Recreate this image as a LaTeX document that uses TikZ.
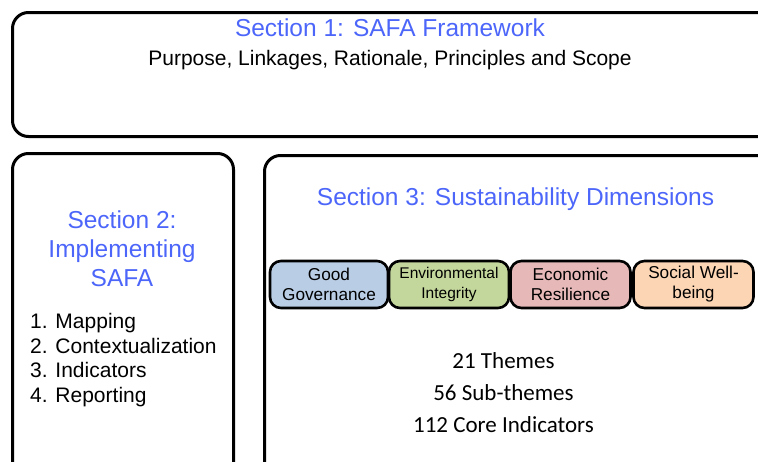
\documentclass[tikz,border=0pt]{standalone}
\usepackage{fontspec}
\setmainfont{Liberation Sans}
\newfontfamily\calibri{Carlito}
\usetikzlibrary{positioning}
\definecolor{secblue}{RGB}{77,102,250}
\definecolor{govblue}{RGB}{185,205,229}
\definecolor{envgreen}{RGB}{195,214,155}
\definecolor{ecored}{RGB}{230,185,184}
\definecolor{socorange}{RGB}{252,213,181}
\tikzset{
  secbox/.style={draw, line width=3pt, rounded corners=16pt, anchor=north west, inner sep=0pt},
  sectitle/.style={text=secblue, font=\fontsize{24.5}{29}\selectfont, align=center},
  dimbox/.style={draw, line width=2.6pt, rounded corners=11pt, minimum height=47pt, inner sep=0pt, align=center, font=\fontsize{17.2}{20}\selectfont}
}
\begin{document}
\begin{tikzpicture}[x=1pt, y=-1pt]
\useasboundingbox (0,0) rectangle (758,461);
\fill[white] (0,0) rectangle (758,461);

% the three sections
\node[secbox, minimum width=762pt, minimum height=124pt] (sec1) at (11,11) {};
\node[secbox, minimum width=221pt, minimum height=330pt] (sec2) at (11,152) {};
\node[secbox, minimum width=510pt, minimum height=330pt] (sec3) at (263,154) {};

\node[sectitle] (t1) at (390,28) {Section 1: SAFA Framework};
\node[font=\fontsize{21}{25}\selectfont] (s1) at (390,60) {Purpose, Linkages, Rationale, Principles and Scope};

\node[sectitle] (t2) at (122,249) {Section 2:\\Implementing\\SAFA};
\node[anchor=west, align=left, inner sep=0pt, font=\fontsize{21}{24.7}\selectfont] (steps) at (30,360)
  {1. Mapping\\2. Contextualization\\3. Indicators\\4. Reporting};

\node[sectitle] (t3) at (515.5,199) {Section 3: Sustainability Dimensions};

% dimensions
\node[dimbox, fill=govblue, minimum width=118pt] (gov) at (329,284.5) {Good\\Governance};
\node[dimbox, fill=envgreen, minimum width=120pt, font=\fontsize{15.5}{20}\selectfont] (env) at (449,284.5) {Environmental\\Integrity};
\node[dimbox, fill=ecored, minimum width=120pt] (eco) at (570.5,284.5) {Economic\\Resilience};
\node[dimbox, fill=socorange, minimum width=120pt] (soc) at (693.5,284.5) {Social Well-\\being};

\node[font=\calibri\fontsize{23}{32}\selectfont, align=center] (counts) at (503.5,393)
  {21 Themes\\56 Sub-themes\\112 Core Indicators};
\end{tikzpicture}
\end{document}
